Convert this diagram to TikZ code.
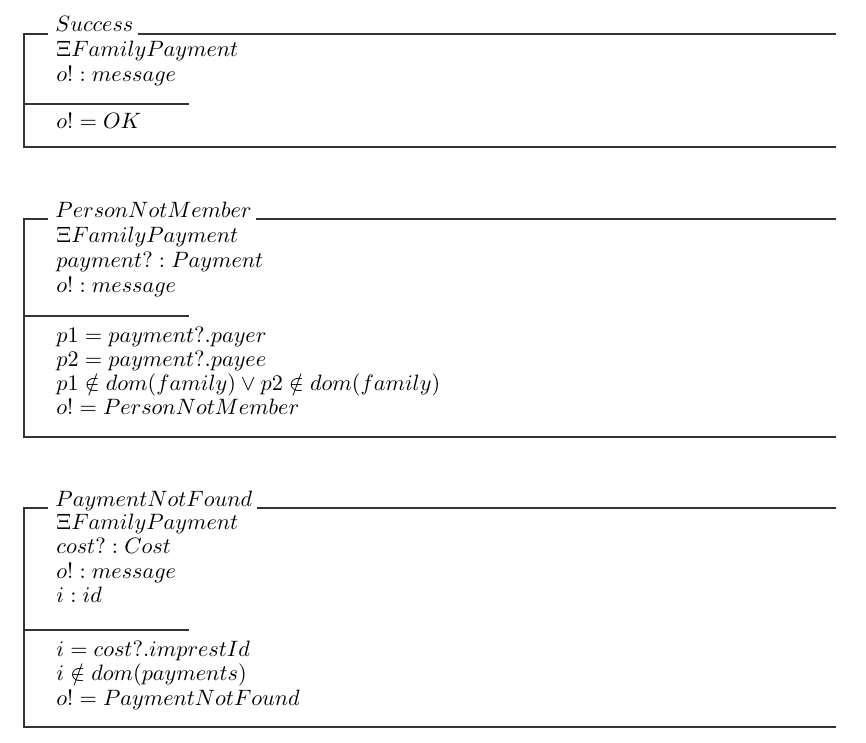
\documentclass[tikz,border=0pt]{standalone}
\begin{document}
\begin{tikzpicture}[x=0.45pt,y=-0.45pt,
  zrule/.style={line width=0.55pt,draw=black!80},
  ztext/.style={anchor=base west,inner sep=0pt}]
\useasboundingbox (0,0) rectangle (866,742);
% ---------- Schema 1: Success ----------
\coordinate (a1) at (48,34);
\coordinate (a2) at (24,34);
\coordinate (a3) at (24,147);
\coordinate (a4) at (836,147);
\coordinate (a5) at (836,34);
\coordinate (a6) at (24,104);
\coordinate (a7) at (189,104);
\node[ztext] (s1t) at (55,32) {$Success$};
\draw[zrule] (a1) -- (a2) -- (a3) -- (a4);
\draw[zrule] (s1t.east |- a5) ++(4,0) -- (a5);
\draw[zrule] (a6) -- (a7);
\node[ztext] (s1d1) at (56,56.5) {$\Xi FamilyPayment$};
\node[ztext] (s1d2) at (56,81) {$o! : message$};
\node[ztext] (s1p1) at (56,128.5) {$o! = OK$};
% ---------- Schema 2: PersonNotMember ----------
\coordinate (b1) at (48,219);
\coordinate (b2) at (24,219);
\coordinate (b3) at (24,437);
\coordinate (b4) at (836,437);
\coordinate (b5) at (836,219);
\coordinate (b6) at (24,316);
\coordinate (b7) at (189,316);
\node[ztext] (s2t) at (55,217) {$PersonNotMember$};
\draw[zrule] (b1) -- (b2) -- (b3) -- (b4);
\draw[zrule] (s2t.east |- b5) ++(4,0) -- (b5);
\draw[zrule] (b6) -- (b7);
\node[ztext] (s2d1) at (56,242.5) {$\Xi FamilyPayment$};
\node[ztext] (s2d2) at (56,267.5) {$payment? : Payment$};
\node[ztext] (s2d3) at (56,292) {$o! : message$};
\node[ztext] (s2p1) at (56,342) {$p1 = payment?.payer$};
\node[ztext] (s2p2) at (56,366.3) {$p2 = payment?.payee$};
\node[ztext] (s2p3) at (56,390.6) {$p1 \notin dom(family) \lor p2 \notin dom(family)$};
\node[ztext] (s2p4) at (56,414.9) {$o! = PersonNotMember$};
% ---------- Schema 3: PaymentNotFound ----------
\coordinate (c1) at (48,508);
\coordinate (c2) at (24,508);
\coordinate (c3) at (24,727);
\coordinate (c4) at (836,727);
\coordinate (c5) at (836,508);
\coordinate (c6) at (24,630);
\coordinate (c7) at (189,630);
\node[ztext] (s3t) at (55,506) {$PaymentNotFound$};
\draw[zrule] (c1) -- (c2) -- (c3) -- (c4);
\draw[zrule] (s3t.east |- c5) ++(4,0) -- (c5);
\draw[zrule] (c6) -- (c7);
\node[ztext] (s3d1) at (56,529.5) {$\Xi FamilyPayment$};
\node[ztext] (s3d2) at (56,553.8) {$cost? : Cost$};
\node[ztext] (s3d3) at (56,578.1) {$o! : message$};
\node[ztext] (s3d4) at (56,602.4) {$i : id$};
\node[ztext] (s3p1) at (56,656.5) {$i = cost?.imprestId$};
\node[ztext] (s3p2) at (56,680.8) {$i \notin dom(payments)$};
\node[ztext] (s3p3) at (56,705.1) {$o! = PaymentNotFound$};
\end{tikzpicture}
\end{document}
